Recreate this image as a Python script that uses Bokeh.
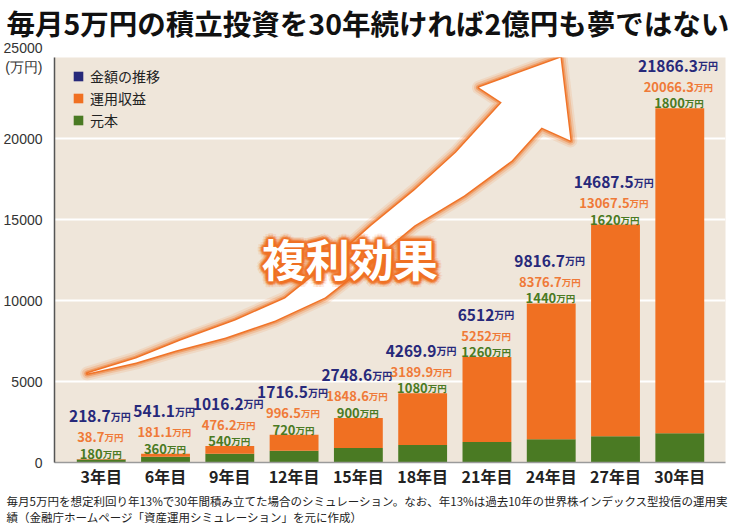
import math
from bokeh.plotting import figure
from bokeh.models import Range1d, FixedTicker, Legend, LegendItem, ColumnDataSource, Title
from bokeh.core.properties import value
from bokeh.embed import file_html
from bokeh.resources import INLINE

# ---------------- data ----------------
categories = ["3年目", "6年目", "9年目", "12年目", "15年目", "18年目", "21年目", "24年目", "27年目", "30年目"]
principal = [180, 360, 540, 720, 900, 1080, 1260, 1440, 1620, 1800]          # 元本
profit = [38.7, 181.1, 476.2, 996.5, 1848.6, 3189.9, 5252, 8376.7, 13067.5, 20066.3]  # 運用収益
total = [218.7, 541.1, 1016.2, 1716.5, 2748.6, 4269.9, 6512, 9816.7, 14687.5, 21866.3]  # 金額の推移
y_ticks = [0, 5000, 10000, 15000, 20000, 25000]
y_top_label = "25000\n(万円)"

title_text = "毎月5万円の積立投資を30年続ければ2億円も夢ではない"
footer_1 = "毎月5万円を想定利回り年13%で30年間積み立てた場合のシミュレーション。なお、年13%は過去10年の世界株インデックス型投信の運用実"
footer_2 = "績（金融庁ホームページ「資産運用シミュレーション」を元に作成）"
badge = "複利効果"

# decorative arrow outline (data units: category index, 万円)
arrow_x = [-0.217, 0.541, 1.237, 2.087, 2.860, 3.556, 4.206, 4.871, 5.520, 6.231,
           5.876, 7.144, 7.298, 6.850,
           6.386, 5.644, 4.871, 4.175, 3.479, 2.706, 1.933, 1.159, 0.541]
arrow_y = [5494, 6420, 7531, 8766, 10124, 12346, 14630, 16791, 19136, 22223,
           23149, 24990, 19877, 20680,
           18642, 16482, 14630, 12346, 10185, 8766, 7716, 6914, 6173]
badge_x, badge_y = 3.866, 12593

# ---------------- style ----------------
FONT = "Noto Sans CJK JP"
NAVY = "#27297a"
ORANGE = "#f07022"
ORANGE_TXT = "#ef7a38"
GREEN = "#4a7a23"
BEIGE = "#efe6da"

xs = list(range(len(categories)))

p = figure(width=734, height=524, output_backend="svg", toolbar_location=None,
           x_range=Range1d(-0.727, 9.711), y_range=Range1d(0, 25000),
           min_border_left=50, min_border_right=9, min_border_top=57, min_border_bottom=62,
           title=None)
p.background_fill_color = BEIGE
p.border_fill_color = "white"
p.outline_line_color = None

# axes
p.xaxis.ticker = FixedTicker(ticks=xs)
p.xaxis.major_label_overrides = {i: c for i, c in enumerate(categories)}
p.xaxis.major_label_text_font = FONT
p.xaxis.major_label_text_font_style = "bold"
p.xaxis.major_label_text_font_size = "16px"
p.xaxis.major_label_text_color = "#222222"
p.xaxis.major_label_standoff = -5
p.xaxis.axis_line_color = "#9a9a9a"
p.xaxis.axis_line_width = 1.5
p.yaxis.ticker = FixedTicker(ticks=y_ticks)
p.yaxis.major_label_overrides = {y_ticks[-1]: y_top_label}
p.yaxis.major_label_text_font = "Liberation Sans"
p.yaxis.major_label_text_font_size = "14px"
p.yaxis.major_label_text_color = "#333333"
p.yaxis.major_label_standoff = 6
p.yaxis.axis_line_color = "#555555"
p.yaxis.axis_line_width = 1.5
for ax in (p.xaxis, p.yaxis):
    ax.major_tick_line_color = None
    ax.minor_tick_line_color = None
p.xgrid.visible = False
p.ygrid.ticker = FixedTicker(ticks=[t for t in y_ticks if 0 < t < 25000])
p.ygrid.grid_line_color = "white"
p.ygrid.grid_line_width = 2

# bars
src = ColumnDataSource(dict(x=xs, principal=principal, total=total))
g_r = p.vbar(x="x", bottom=0, top="principal", width=0.76, source=src, fill_color=GREEN, line_color=None)
o_r = p.vbar(x="x", bottom="principal", top="total", width=0.76, source=src, fill_color=ORANGE, line_color=None)
# zero-height bars at the totals: carries the navy legend swatch
n_r = p.vbar(x="x", bottom="total", top="total", width=0.76, source=src, fill_color=NAVY, line_color=None)

# arrow with glow
for lw, a in [(14, 0.12), (10, 0.22), (6, 0.45), (3, 0.9)]:
    p.patch(arrow_x, arrow_y, fill_color=None, line_color=ORANGE, line_width=lw, line_alpha=a, line_join="round")
p.patch(arrow_x, arrow_y, fill_color="white", line_color=None)


def fmt(v):
    s = f"{v:.1f}"
    return s[:-2] if s.endswith(".0") else s


def est_w(s, fs):
    return sum(0.27 if c == "." else 0.56 for c in s) * fs


rows = [
    (total, NAVY, 15.5, 10, -42.5),
    (profit, ORANGE_TXT, 13, 9.5, -21.5),
    (principal, GREEN, 13, 9.5, -5.0),
]
for vals, col, fs, fu, yoff in rows:
    nums = [fmt(v) for v in vals]
    xoff = [(est_w(s, fs) - 2 * fu) / 2 for s in nums]
    s = ColumnDataSource(dict(x=xs, y=total, num=nums, unit=["万円"] * len(xs), xoff=xoff))
    p.text(x="x", y="y", text="num", source=s, x_offset="xoff", y_offset=yoff,
           text_align="right", text_baseline="alphabetic", text_font=value(FONT),
           text_font_style="bold", text_font_size=f"{fs}px", text_color=col)
    p.text(x="x", y="y", text="unit", source=s, x_offset="xoff", y_offset=yoff,
           text_align="left", text_baseline="alphabetic", text_font=value(FONT),
           text_font_style="bold", text_font_size=f"{fu}px", text_color=col)

# badge text with glow
for r, a in [(6, 0.12), (4, 0.25), (2.5, 0.45)]:
    for k in range(12):
        ang = 2 * math.pi * k / 12
        p.text(x=[badge_x], y=[badge_y], text=[badge], x_offset=r * math.cos(ang), y_offset=r * math.sin(ang),
               text_align="center", text_baseline="middle", text_font=value(FONT), text_font_style="bold",
               text_font_size="44px", text_color=ORANGE, text_alpha=a)
p.text(x=[badge_x], y=[badge_y], text=[badge], text_align="center", text_baseline="middle",
       text_font=value(FONT), text_font_style="bold", text_font_size="44px", text_color="white")

# legend
legend = Legend(items=[LegendItem(label="金額の推移", renderers=[n_r]),
                       LegendItem(label="運用収益", renderers=[o_r]),
                       LegendItem(label="元本", renderers=[g_r])],
                location=(18, 332), background_fill_alpha=0, border_line_color=None,
                glyph_width=12, glyph_height=12, label_height=16, spacing=2, padding=0, margin=0,
                label_standoff=6, label_text_font=FONT, label_text_font_size="14px",
                label_text_color="#222222")
p.add_layout(legend, "center")

# title (with a small spacer between it and the plot) and footnotes
p.add_layout(Title(text=" ", text_font_size="6px", standoff=6), "above")
p.add_layout(Title(text=title_text, align="left", offset=-48, standoff=0, vertical_align="middle",
                   text_font=FONT, text_font_style="bold", text_font_size="28.5px",
                   text_color="#111111"), "above")
p.add_layout(Title(text=footer_1, align="left", offset=-48, standoff=0,
                   text_font=FONT, text_font_style="normal", text_font_size="11.5px",
                   text_color="#222222"), "below")
p.add_layout(Title(text=footer_2, align="left", offset=-48, standoff=-3,
                   text_font=FONT, text_font_style="normal", text_font_size="11.5px",
                   text_color="#222222"), "below")

open("out.html", "w").write(file_html(p, INLINE))
